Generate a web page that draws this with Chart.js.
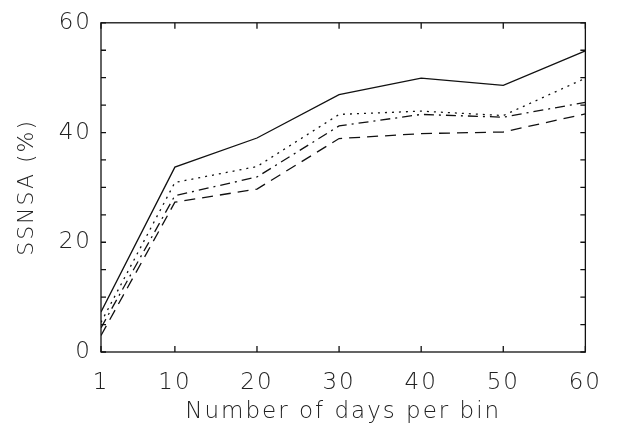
<!DOCTYPE html>
<html>
<head>
<meta charset="utf-8">
<script src="https://cdn.jsdelivr.net/npm/chart.js@4"></script>
<style>
  html, body { margin: 0; padding: 0; background: #fff; }
  #wrap { width: 619px; height: 429px; }
</style>
</head>
<body>
<div id="wrap"><canvas id="ssnsa-chart" width="619" height="429"></canvas></div>
<script>
// days per bin (x) and the four curves
const days = [1, 10, 20, 30, 40, 50, 60];
const solidLine = [7.3, 33.7, 39.0, 46.9, 49.9, 48.6, 54.9];
const dottedLine = [5.4, 30.9, 33.8, 43.3, 43.9, 43.1, 49.9];
const dashDotLine = [4.4, 28.5, 31.9, 41.2, 43.3, 42.8, 45.5];
const dashedLine = [3.0, 27.3, 29.7, 38.9, 39.8, 40.1, 43.4];
const xTicks = [1, 10, 20, 30, 40, 50, 60];
const yLabels = [0, 20, 40, 60];

const FONT = "'DejaVu Sans', sans-serif";
const SPACING = "2px";

function toPoints(vals) {
  return days.map((d, i) => ({x: d, y: vals[i]}));
}

function lineSet(label, vals, dash) {
  return {
    label: label,
    data: toPoints(vals),
    borderColor: "#111",
    borderWidth: 1.3,
    borderDash: dash,
    pointRadius: 0,
    fill: false,
    tension: 0
  };
}

// wide-spaced text like the plotting font of the original
const spacing = {
  id: "spacing",
  beforeUpdate(chart) { chart.ctx.letterSpacing = SPACING; },
  beforeDraw(chart) { chart.ctx.letterSpacing = SPACING; }
};

// box around plot + inward ticks
const frame = {
  id: "frame",
  afterDraw(chart) {
    const ctx = chart.ctx;
    const a = chart.chartArea;
    const xs = chart.scales.x, ys = chart.scales.y;
    ctx.save();
    ctx.strokeStyle = "#111";
    ctx.lineWidth = 1.3;
    ctx.strokeRect(a.left, a.top, a.right - a.left, a.bottom - a.top);
    ctx.beginPath();
    xs.ticks.forEach(t => {
      const px = xs.getPixelForValue(t.value);
      ctx.moveTo(px, a.bottom); ctx.lineTo(px, a.bottom - 6);
      ctx.moveTo(px, a.top); ctx.lineTo(px, a.top + 6);
    });
    ys.ticks.forEach(t => {
      const py = ys.getPixelForValue(t.value);
      ctx.moveTo(a.left, py); ctx.lineTo(a.left + 5, py);
      ctx.moveTo(a.right, py); ctx.lineTo(a.right - 5, py);
    });
    ctx.stroke();
    ctx.restore();
  }
};

new Chart(document.getElementById("ssnsa-chart"), {
  type: "line",
  data: {
    datasets: [
      lineSet("solid", solidLine, []),
      lineSet("dotted", dottedLine, [2, 5]),
      lineSet("dash-dot", dashDotLine, [10, 5, 2, 5]),
      lineSet("dashed", dashedLine, [11, 7])
    ]
  },
  options: {
    responsive: false,
    animation: false,
    layout: { padding: { left: 0, right: 30, top: 13, bottom: 0 } },
    plugins: { legend: { display: false }, tooltip: { enabled: false } },
    scales: {
      x: {
        type: "linear",
        min: 1,
        max: 60,
        afterBuildTicks: s => { s.ticks = xTicks.map(v => ({value: v})); },
        afterFit: s => { s.height = 77; },
        grid: { display: false, drawTicks: false },
        border: { display: false },
        ticks: {
          color: "#222",
          font: { family: FONT, size: 23, weight: 200 },
          padding: 17,
          autoSkip: false,
          maxRotation: 0
        },
        title: {
          display: true,
          text: "Number of days per bin",
          color: "#222",
          font: { family: FONT, size: 23, weight: 200 },
          padding: { top: 0, bottom: 3 }
        }
      },
      y: {
        min: 0,
        max: 60,
        afterFit: s => { s.width = 101; },
        grid: { display: false, drawTicks: false },
        border: { display: false },
        ticks: {
          stepSize: 5,
          autoSkip: false,
          color: "#222",
          font: { family: FONT, size: 23, weight: 200 },
          padding: 9,
          callback: v => yLabels.includes(v) ? String(v) : ""
        },
        title: {
          display: true,
          text: "SSNSA (%)",
          color: "#222",
          font: { family: FONT, size: 22, weight: 200 },
          padding: { top: 14, bottom: 0 }
        }
      }
    }
  },
  plugins: [spacing, frame]
});
</script>
</body>
</html>
